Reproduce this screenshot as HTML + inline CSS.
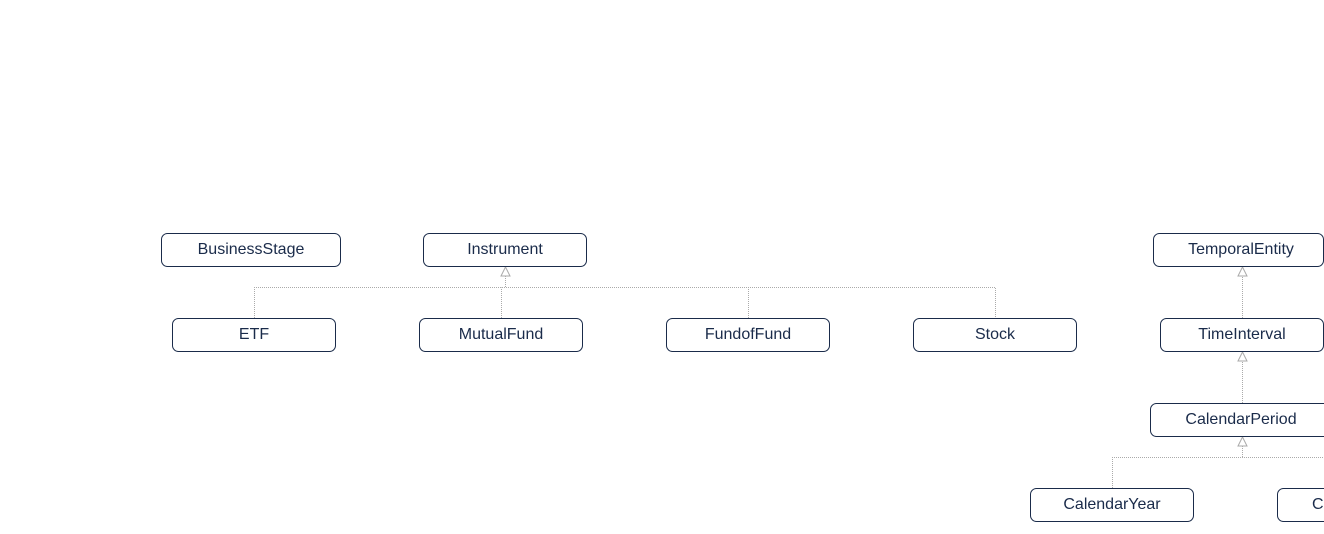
<!DOCTYPE html>
<html><head><style>html,body{margin:0;padding:0;background:#fff;width:1324px;height:534px;overflow:hidden}</style></head>
<body>
<svg width="1324" height="534" xmlns="http://www.w3.org/2000/svg" font-family="Liberation Sans, sans-serif" font-size="16" fill="#1a2b4a">
<g stroke="#aaa" stroke-width="1" stroke-dasharray="1,1" fill="none">
<path d="M254.5 318V287.5H995.5V318"/>
<path d="M501.5 318V287.5"/>
<path d="M748.5 318V287.5"/>
<path d="M505.5 287V276"/>
<path d="M1242.5 318V276"/>
<path d="M1242.5 403V361"/>
<path d="M1112.5 488V457.5H1324"/>
<path d="M1242.5 457V446"/>
</g>
<g stroke="#aaa" fill="#fff">
<path d="M505.5 267L501 276H510Z"/>
<path d="M1242.5 267L1238 276H1247Z"/>
<path d="M1242.5 352L1238 361H1247Z"/>
<path d="M1242.5 437L1238 446H1247Z"/>
</g>
<g stroke="#1a2b4a" stroke-width="1" fill="#fff">
<rect x="161.5" y="233.5" width="179" height="33" rx="6"/>
<rect x="423.5" y="233.5" width="163" height="33" rx="6"/>
<rect x="172.5" y="318.5" width="163" height="33" rx="6"/>
<rect x="419.5" y="318.5" width="163" height="33" rx="6"/>
<rect x="666.5" y="318.5" width="163" height="33" rx="6"/>
<rect x="913.5" y="318.5" width="163" height="33" rx="6"/>
<rect x="1153.5" y="233.5" width="170" height="33" rx="6"/>
<rect x="1160.5" y="318.5" width="163" height="33" rx="6"/>
<rect x="1150.5" y="403.5" width="182" height="33" rx="6"/>
<rect x="1030.5" y="488.5" width="163" height="33" rx="6"/>
<rect x="1277.5" y="488.5" width="163" height="33" rx="6"/>
</g>
<g text-anchor="middle">
<text x="251" y="254">BusinessStage</text>
<text x="505" y="254">Instrument</text>
<text x="254" y="339">ETF</text>
<text x="501" y="339">MutualFund</text>
<text x="748" y="339">FundofFund</text>
<text x="995" y="339">Stock</text>
<text x="1241" y="254">TemporalEntity</text>
<text x="1242" y="339">TimeInterval</text>
<text x="1241" y="424">CalendarPeriod</text>
<text x="1112" y="509">CalendarYear</text>
</g>
<text x="1312" y="509">C</text>
</svg>
</body></html>
